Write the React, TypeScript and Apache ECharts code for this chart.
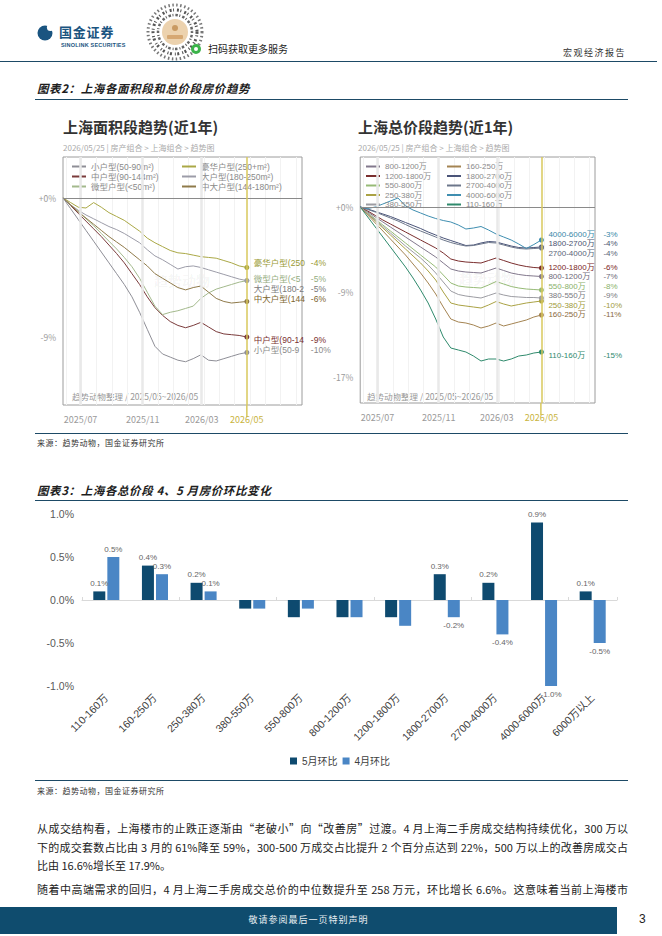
import React, { useEffect, useRef } from "react";
import * as echarts from "echarts";

const FONT = '"Noto Sans CJK SC", "Noto Sans", sans-serif';
const ARIAL = '"Liberation Sans", "Noto Sans CJK SC", sans-serif';
const NAVY = "#1d4a66";
const YELLOW = "#d8c85c";

// ---------- 图表2：趋势（距 2025/05/25 的月数，累计涨跌 %） ----------
const trendMonths = [0, 0.5, 1, 1.5, 2, 2.5, 3, 3.5, 4, 4.5, 5, 5.5, 6, 6.5, 7, 7.5, 8, 8.5, 9, 9.5, 10, 10.5, 11, 11.5, 12];
const trendTickPos = [1.15, 5.2, 9.05, 12];
const trendTickLabels = ["2025/07", "2025/11", "2026/03", "2026/05"];
const monthGrid = [0.2, 1.2, 2.2, 3.2, 4.2, 5.2, 6.2, 7.2, 8.2, 9.2, 10.2, 11.2, 12.2, 13.2, 14.2, 15.2];

// 面积段
const areaNames = ["小户型(50-90m²)", "中户型(90-144m²)", "微型户型(<50m²)", "豪华户型(250+m²)", "大户型(180-250m²)", "中大户型(144-180m²)"];
const areaShortNames = ["小户型(50-9", "中户型(90-14", "微型户型(<5", "豪华户型(250", "大户型(180-2", "中大户型(144"];
const areaChanges = ["-10%", "-9%", "-5%", "-4%", "-5%", "-6%"];
const areaSmall = [0, -0.7, -1.4, -2.1, -2.8, -3.5, -4.2, -4.9, -5.6, -6.4, -7.4, -8.5, -9.6, -10.1, -10.3, -10.5, -10.6, -10.4, -10.15, -10.5, -10.55, -10.4, -10.25, -10.1, -10.0];
const areaMid = [0, -0.5, -1.0, -1.5, -2.0, -2.5, -3.05, -3.6, -4.2, -4.9, -5.6, -6.4, -7.1, -7.6, -8.0, -8.25, -8.4, -8.25, -8.05, -8.35, -8.65, -8.8, -8.85, -8.9, -9.0];
const areaMicro = [0, -0.45, -0.9, -1.35, -1.8, -2.3, -2.8, -3.3, -3.85, -4.45, -5.2, -6.1, -7.0, -7.55, -7.4, -7.3, -7.15, -7.0, -6.5, -6.15, -5.9, -5.75, -5.6, -5.45, -5.35];
const areaLuxury = [0, -0.3, -0.6, -0.65, -0.3, -0.6, -0.95, -1.2, -1.45, -1.8, -2.15, -2.6, -2.9, -3.15, -3.4, -3.55, -3.6, -3.7, -3.8, -3.85, -3.9, -4.05, -4.2, -4.4, -4.5];
const areaLarge = [0, -0.45, -0.8, -1.1, -1.35, -1.6, -1.85, -2.05, -2.3, -2.6, -2.9, -3.35, -3.75, -4.0, -4.3, -4.6, -4.45, -4.4, -4.5, -4.65, -4.8, -4.95, -5.1, -5.25, -5.35];
const areaMidLarge = [0, -0.45, -0.9, -1.3, -1.7, -2.1, -2.5, -2.85, -3.2, -3.6, -4.0, -4.4, -4.9, -5.2, -5.5, -5.8, -5.95, -5.8, -5.7, -6.1, -6.5, -6.7, -6.8, -6.75, -6.7];

// 总价段
const priceTrendNames = ["800-1200万", "1200-1800万", "550-800万", "250-380万", "380-550万", "160-250万", "1800-2700万", "2700-4000万", "4000-6000万", "110-160万"];
const priceTrendChanges = ["-7%", "-6%", "-8%", "-10%", "-9%", "-11%", "-4%", "-4%", "-3%", "-15%"];
const p800 = [0, -0.5, -1.0, -1.5, -2.0, -2.5, -3.0, -3.5, -4.0, -4.5, -5.0, -5.6, -6.2, -6.4, -6.5, -6.55, -6.6, -6.35, -6.1, -6.35, -6.6, -6.75, -6.85, -6.9, -6.95];
const p1200 = [0, -0.4, -0.85, -1.3, -1.7, -2.1, -2.5, -2.9, -3.3, -3.7, -4.1, -4.6, -5.2, -5.4, -5.5, -5.55, -5.6, -5.35, -5.1, -5.35, -5.6, -5.8, -5.95, -6.05, -6.1];
const p550 = [0, -0.6, -1.2, -1.8, -2.4, -3.0, -3.6, -4.2, -4.8, -5.4, -6.0, -6.8, -7.6, -7.9, -8.0, -8.05, -8.1, -7.8, -7.45, -7.7, -7.95, -8.1, -8.2, -8.25, -8.3];
const p250 = [0, -0.7, -1.4, -2.1, -2.8, -3.5, -4.2, -4.9, -5.6, -6.4, -7.3, -8.5, -9.6, -9.8, -9.9, -10.0, -10.1, -9.8, -9.45, -9.7, -9.9, -9.75, -9.6, -9.5, -9.4];
const p380 = [0, -0.65, -1.3, -1.95, -2.6, -3.25, -3.9, -4.5, -5.1, -5.8, -6.6, -7.5, -8.4, -8.75, -8.9, -9.0, -9.1, -8.85, -8.6, -8.8, -8.95, -9.0, -9.05, -9.05, -9.1];
const p160 = [0, -0.8, -1.6, -2.4, -3.2, -4.0, -4.8, -5.7, -6.6, -7.6, -8.7, -10.0, -11.2, -11.5, -11.6, -11.8, -12.1, -11.9, -11.6, -11.9, -11.7, -11.5, -11.3, -11.0, -10.8];
const p1800 = [0, -0.2, -0.45, -0.7, -0.95, -1.25, -1.55, -1.85, -2.15, -2.5, -2.8, -3.1, -3.35, -3.6, -3.85, -3.8, -3.6, -3.45, -3.5, -3.7, -3.9, -4.05, -4.1, -4.05, -4.0];
const p2700 = [0, -0.25, -0.5, -0.8, -1.1, -1.4, -1.75, -2.1, -2.4, -2.7, -3.0, -3.3, -3.55, -3.75, -3.9, -3.85, -3.7, -3.55, -3.6, -3.8, -4.0, -4.15, -4.2, -4.15, -4.1];
const p4000 = [0, -0.15, 0.0, 0.3, 0.6, 0.9, 0.1, -0.3, -0.6, -0.9, -1.15, -1.35, -1.5, -1.8, -2.2, -2.1, -1.95, -2.3, -2.7, -3.0, -3.3, -3.7, -4.15, -3.75, -3.3];
const p110 = [0, -1.0, -2.0, -3.0, -4.0, -5.0, -6.0, -7.1, -8.3, -9.6, -11.2, -13.0, -14.1, -14.3, -14.5, -14.9, -15.4, -15.2, -15.2, -15.4, -15.2, -14.9, -14.8, -14.6, -14.5];

// ---------- 图表3：4、5 月环比 ----------
const priceBands = ["110-160万", "160-250万", "250-380万", "380-550万", "550-800万", "800-1200万", "1200-1800万", "1800-2700万", "2700-4000万", "4000-6000万", "6000万以上"];
const mayMoM = [0.1, 0.4, 0.2, -0.1, -0.2, -0.2, -0.2, 0.3, 0.2, 0.9, 0.1];
const aprMoM = [0.5, 0.3, 0.1, -0.1, -0.1, -0.2, -0.3, -0.2, -0.4, -1.0, -0.5];
const unlabeledBands = ["380-550万", "550-800万", "800-1200万", "1200-1800万"];

const leftCfg = {
  title: "上海面积段趋势(近1年)",
  names: areaNames,
  shortNames: areaShortNames,
  changes: areaChanges,
  values: [areaSmall, areaMid, areaMicro, areaLuxury, areaLarge, areaMidLarge],
  colors: ["#8e8e96", "#7a3b3b", "#a3b98c", "#aaa846", "#9c9ca8", "#8f7a4a"],
  labelColors: ["#8a8a8a", "#7a3030", "#95ad80", "#9a9a35", "#7a7a7a", "#7d6630"],
  labelDy: [-2.5, 3, -1.6, -4.5, 8.4, -2.4],
  legendCols: [areaNames.slice(0, 3), areaNames.slice(3)],
  legendLeft: [37, 147],
  legendGap: 1,
  legendFont: 8.5,
  grid: { left: 28, top: 52, width: 239, height: 248 },
  xMax: 15.6,
  yMin: -13.4,
  yMax: 2.65,
  yTicks: [0, -9],
  yTickLabels: ["+0%", "-9%"],
  nameWidth: 57,
  labelFont: 8.5,
  watermark: [147, 175],
};

const rightCfg = {
  title: "上海总价段趋势(近1年)",
  names: priceTrendNames,
  shortNames: priceTrendNames,
  changes: priceTrendChanges,
  values: [p800, p1200, p550, p250, p380, p160, p1800, p2700, p4000, p110],
  colors: ["#82788c", "#7a2e2e", "#96ba76", "#aaa244", "#9c9ca2", "#a48452", "#4a5478", "#6c768a", "#3f8eb0", "#2f8a6c"],
  labelColors: ["#6e6878", "#7a2626", "#8ab26a", "#a09a3a", "#7a7a80", "#8a6a40", "#4c5470", "#5a6478", "#3a88a8", "#2f8a6e"],
  labelDy: [0, -1, -4, 4, -2.5, -0.5, -3.5, 5, -6, 3],
  legendCols: [priceTrendNames.slice(0, 5), priceTrendNames.slice(5)],
  legendLeft: [36, 117],
  legendGap: 0.5,
  legendFont: 8,
  grid: { left: 28, top: 52, width: 237, height: 246 },
  xMax: 15.55,
  yMin: -19.6,
  yMax: 5.0,
  yTicks: [0, -8.5, -17],
  yTickLabels: ["+0%", "-9%", "-17%"],
  nameWidth: 55,
  labelFont: 8,
  watermark: [157, 173],
};

function buildTrendOption(cfg: any) {
  const last = trendMonths.length - 1;
  const g = cfg.grid;
  const endX = g.left + (12 / cfg.xMax) * g.width;
  const bottomY = g.top + g.height;
  return {
    animation: false,
    textStyle: { fontFamily: FONT },
    graphic: [
      { id: "t", type: "text", left: 28, top: 14, style: { text: cfg.title, fontSize: 15, fontWeight: "bold", fill: "#333", fontFamily: FONT } },
      { id: "st", type: "text", left: 28, top: 38.5, style: { text: "2026/05/25 | 房产组合 > 上海组合 > 趋势图", fontSize: 8, fill: "#aaa", fontFamily: FONT } },
      { id: "note", type: "text", left: 37, top: 287, style: { text: "趋势动物整理 / 2025/05~2026/05", fontSize: 8.5, fill: "#999", fontFamily: FONT } },
      { id: "wm", type: "text", x: cfg.watermark[0], y: cfg.watermark[1], style: { text: "趋势动物", fontSize: 14, fontWeight: "bold", fill: "rgba(0,0,0,0.05)", align: "center", verticalAlign: "middle", fontFamily: FONT } },
      { id: "tail", type: "line", z: 0, shape: { x1: endX, y1: bottomY, x2: endX, y2: bottomY + 12 }, style: { stroke: YELLOW, lineWidth: 1.5 } },
    ],
    grid: { ...g, show: true, borderColor: "#9c9c9c", borderWidth: 1, backgroundColor: "transparent" },
    legend: cfg.legendCols.map((col: string[], i: number) => ({
      data: col,
      left: cfg.legendLeft[i],
      top: 57,
      orient: "vertical",
      icon: "rect",
      itemWidth: 14,
      itemHeight: 2,
      itemGap: cfg.legendGap,
      padding: 0,
      selectedMode: false,
      textStyle: { fontSize: cfg.legendFont, color: "#8a8a8a", lineHeight: 9, fontFamily: ARIAL },
    })),
    xAxis: {
      type: "value",
      min: 0,
      max: cfg.xMax,
      axisLine: { show: false },
      axisTick: { show: false, customValues: monthGrid },
      splitLine: { show: true, lineStyle: { color: "#f2f2f2", width: 1 } },
      axisLabel: {
        customValues: trendTickPos,
        color: "#9a9a9a",
        fontSize: 9,
        margin: 10,
        formatter: (v: number) => {
          const i = trendTickPos.indexOf(v);
          const t = trendTickLabels[i] ?? "";
          return i === trendTickPos.length - 1 ? `{hl|${t}}` : t;
        },
        rich: { hl: { color: "#c9b440", fontSize: 9, fontFamily: FONT } },
      },
    },
    yAxis: {
      type: "value",
      min: cfg.yMin,
      max: cfg.yMax,
      axisLine: { show: false },
      axisTick: { show: false },
      splitLine: { show: false },
      axisLabel: {
        customValues: cfg.yTicks,
        color: "#9a9a9a",
        fontSize: 8.5,
        margin: 7,
        formatter: (v: number) => cfg.yTickLabels[cfg.yTicks.indexOf(v)] ?? "",
      },
    },
    series: [
      {
        type: "line",
        data: [],
        z: 1,
        silent: true,
        markLine: {
          silent: true,
          symbol: ["none", "none"],
          label: { show: false },
          data: trendTickPos.slice(0, 3).map((x) => ({ xAxis: x, lineStyle: { color: "#e9e9e9", width: 2.5, type: "solid" } })),
        },
      },
      {
        type: "line",
        data: [],
        z: 2,
        silent: true,
        markLine: {
          silent: true,
          symbol: ["none", "none"],
          label: { show: false },
          data: [
            { yAxis: 0, lineStyle: { color: "#8a8a8a", width: 1, type: "solid" } },
            { xAxis: 12, lineStyle: { color: YELLOW, width: 1.5, type: "solid" } },
          ],
        },
      },
      ...cfg.names.map((name: string, i: number) => ({
        name,
        type: "line",
        z: 3,
        data: cfg.values[i].map((v: number, k: number) => [trendMonths[k], v]),
        symbol: "circle",
        showSymbol: true,
        showAllSymbol: true,
        symbolSize: (_v: any, p: any) => (p.dataIndex === last ? 5 : 0),
        itemStyle: { color: cfg.colors[i] },
        lineStyle: { width: 1, color: cfg.colors[i] },
        emphasis: { disabled: true },
        endLabel: {
          show: true,
          distance: 7,
          offset: [0, cfg.labelDy[i]],
          formatter: `{n|${cfg.shortNames[i]}}{v|${cfg.changes[i]}}`,
          rich: {
            n: { width: cfg.nameWidth, fontSize: cfg.labelFont, color: cfg.labelColors[i], fontFamily: ARIAL },
            v: { fontSize: cfg.labelFont, color: cfg.labelColors[i], fontFamily: ARIAL },
          },
        },
      })),
    ],
  };
}

function TrendChart({ cfg, style }: { cfg: any; style: React.CSSProperties }) {
  const ref = useRef<HTMLDivElement>(null);
  useEffect(() => {
    if (!ref.current) return;
    const chart = echarts.init(ref.current, null, { renderer: "svg" });
    chart.setOption(buildTrendOption(cfg) as any);
    return () => chart.dispose();
  }, [cfg]);
  return <div ref={ref} style={style} />;
}

function MoMChart({ style }: { style: React.CSSProperties }) {
  const ref = useRef<HTMLDivElement>(null);
  useEffect(() => {
    if (!ref.current) return;
    const chart = echarts.init(ref.current, null, { renderer: "svg" });
    const toItems = (vals: number[]) =>
      vals.map((v, i) => ({
        value: v,
        label: { show: !unlabeledBands.includes(priceBands[i]), position: v >= 0 ? "top" : "bottom" },
      }));
    const barLabel = {
      show: true,
      distance: 4,
      fontSize: 8,
      color: "#666",
      fontFamily: ARIAL,
      formatter: (p: any) => `${Number(p.value).toFixed(1)}%`,
    };
    chart.setOption({
      animation: false,
      textStyle: { fontFamily: ARIAL },
      grid: { left: 47, top: 11, width: 535, height: 172 },
      legend: {
        data: ["5月环比", "4月环比"],
        left: 255,
        top: 253,
        padding: 0,
        icon: "rect",
        itemWidth: 7,
        itemHeight: 7,
        itemGap: 5,
        selectedMode: false,
        textStyle: { fontSize: 10, color: "#404040", fontFamily: ARIAL },
      },
      xAxis: [
        {
          type: "category",
          data: priceBands,
          position: "bottom",
          axisLine: { show: false, onZero: false },
          axisTick: { show: false },
          axisLabel: { interval: 0, rotate: 45, fontSize: 10.5, color: "#404040", margin: 10, fontFamily: ARIAL },
        },
        {
          type: "category",
          data: priceBands,
          position: "top",
          axisLine: { show: true, onZero: true, lineStyle: { color: "#d9d9d9", width: 1 } },
          axisTick: { show: true, length: 3, lineStyle: { color: "#d9d9d9" } },
          axisLabel: { show: false },
        },
      ],
      yAxis: {
        type: "value",
        min: -1,
        max: 1,
        interval: 0.5,
        axisLine: { show: false },
        axisTick: { show: false },
        splitLine: { show: false },
        axisLabel: { fontSize: 10.5, color: "#595959", margin: 8, formatter: (v: number) => `${v.toFixed(1)}%` },
      },
      series: [
        { name: "5月环比", type: "bar", xAxisIndex: 0, data: toItems(mayMoM), barWidth: 12, barGap: "17%", itemStyle: { color: "#0e4a6f" }, label: barLabel },
        { name: "4月环比", type: "bar", xAxisIndex: 0, data: toItems(aprMoM), barWidth: 12, barGap: "17%", itemStyle: { color: "#4a86c5" }, label: barLabel },
      ],
    } as any);
    return () => chart.dispose();
  }, []);
  return <div ref={ref} style={style} />;
}

const abs = (left: number, top: number, extra: React.CSSProperties = {}): React.CSSProperties => ({
  position: "absolute",
  left,
  top,
  whiteSpace: "nowrap",
  ...extra,
});

const rule = (top: number, left = 35, width = 593): React.CSSProperties => ({
  position: "absolute",
  left,
  top,
  width,
  height: 1.4,
  background: NAVY,
});

const figTitle: React.CSSProperties = { fontSize: 11.5, lineHeight: "14px", fontWeight: 700, fontStyle: "italic", color: "#1e1e1e", letterSpacing: 0.6 };
const sourceText: React.CSSProperties = { fontSize: 8, lineHeight: "10px", color: "#333", letterSpacing: 0.5 };
const para: React.CSSProperties = {
  position: "absolute",
  left: 37,
  width: 591,
  fontSize: 11,
  lineHeight: "18.5px",
  color: "#222",
  whiteSpace: "nowrap",
  textAlign: "justify",
};
const justified: React.CSSProperties = { textAlignLast: "justify" } as React.CSSProperties;

function QrBadge() {
  return (
    <svg width={60} height={60} style={{ position: "absolute", left: 145, top: 2 }}>
      <circle cx={30} cy={30} r={27} fill="#fff" stroke="#777" strokeWidth={3} strokeDasharray="1.5 2.5" />
      <circle cx={30} cy={30} r={22} fill="none" stroke="#555" strokeWidth={3} strokeDasharray="2 1.5 1 3" />
      <circle cx={30} cy={30} r={17} fill="none" stroke="#666" strokeWidth={2.5} strokeDasharray="1 2 2.5 1.5" />
      <circle cx={30} cy={30} r={13} fill="#ecd2ae" />
      <circle cx={30} cy={26} r={3} fill="#c99a62" />
      <rect x={22} y={33} width={16} height={4} rx={1} fill="#d6a873" />
      <circle cx={51} cy={47} r={5} fill="#3bb34a" />
      <circle cx={51} cy={47} r={2} fill="#fff" />
    </svg>
  );
}

export default function App() {
  return (
    <div style={{ position: "absolute", left: 0, top: 0, width: 662, height: 936, background: "#fff", overflow: "hidden", fontFamily: FONT }}>
      {/* header */}
      <svg width={20} height={20} style={{ position: "absolute", left: 36, top: 23 }}>
        <circle cx={9} cy={10} r={7.5} fill="#1a5480" />
        <circle cx={14.5} cy={4.5} r={3.6} fill="#fff" />
      </svg>
      <div style={abs(59, 24, { fontSize: 13, lineHeight: "15px", fontWeight: 700, color: "#1a5480", letterSpacing: 0.8 })}>国金证券</div>
      <div style={abs(61, 41.5, { fontSize: 5.5, lineHeight: "6px", fontWeight: 700, color: "#1a5480", fontFamily: ARIAL, letterSpacing: 0.2 })}>SINOLINK SECURITIES</div>
      <QrBadge />
      <div style={abs(208, 43, { fontSize: 10, lineHeight: "12px", color: "#222" })}>扫码获取更多服务</div>
      <div style={abs(563, 47, { fontSize: 9, lineHeight: "12px", color: "#333", letterSpacing: 1.5 })}>宏观经济报告</div>
      <div style={rule(61, 0, 657)} />

      {/* 图表2 */}
      <div style={abs(37, 81, figTitle)}>图表2：上海各面积段和总价段房价趋势</div>
      <div style={rule(99)} />
      <TrendChart cfg={rightCfg} style={{ position: "absolute", left: 330, top: 105, width: 298, height: 327 }} />
      <TrendChart cfg={leftCfg} style={{ position: "absolute", left: 35, top: 105, width: 302, height: 327 }} />
      <div style={rule(433)} />
      <div style={abs(37, 438, sourceText)}>来源：趋势动物，国金证券研究所</div>

      {/* 图表3 */}
      <div style={abs(37, 483, figTitle)}>图表3：上海各总价段 4、5 月房价环比变化</div>
      <div style={rule(500)} />
      <MoMChart style={{ position: "absolute", left: 35, top: 503, width: 593, height: 275 }} />
      <div style={rule(780)} />
      <div style={abs(37, 786, sourceText)}>来源：趋势动物，国金证券研究所</div>

      {/* 正文 */}
      <div style={{ ...para, ...justified, top: 819 }}>从成交结构看，上海楼市的止跌正逐渐由“老破小”向“改善房”过渡。4 月上海二手房成交结构持续优化，300 万以</div>
      <div style={{ ...para, ...justified, top: 837.5 }}>下的成交套数占比由 3 月的 61%降至 59%，300-500 万成交占比提升 2 个百分点达到 22%，500 万以上的改善房成交占</div>
      <div style={{ ...para, top: 856 }}>比由 16.6%增长至 17.9%。</div>
      <div style={{ ...para, ...justified, top: 880 }}>随着中高端需求的回归，4 月上海二手房成交总价的中位数提升至 258 万元，环比增长 6.6%。这意味着当前上海楼市</div>

      {/* footer */}
      <div style={{ position: "absolute", left: 0, top: 907, width: 617, height: 27, background: "#0f4c6e" }} />
      <div style={abs(0, 914, { width: 617, textAlign: "center", fontSize: 9, lineHeight: "12px", color: "#e8eef2", letterSpacing: 1 })}>敬请参阅最后一页特别声明</div>
      <div style={abs(639, 912, { fontSize: 12, lineHeight: "15px", color: "#222", fontFamily: ARIAL })}>3</div>
    </div>
  );
}
